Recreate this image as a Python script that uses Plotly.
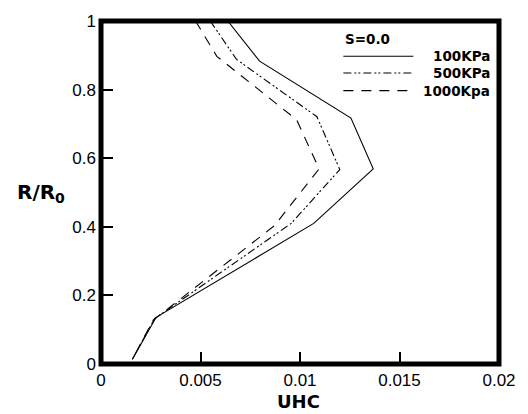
import plotly.graph_objects as go

# Radial UHC profiles at swirl S=0.0 for three chamber pressures
r_100 = [1.0, 0.883, 0.717, 0.569, 0.410, 0.136, 0.013]
uhc_100 = [0.00637, 0.00797, 0.01256, 0.01368, 0.01069, 0.00277, 0.00157]

r_500 = [1.0, 0.888, 0.721, 0.567, 0.410, 0.132, 0.013]
uhc_500 = [0.00549, 0.00681, 0.01085, 0.01200, 0.00956, 0.00269, 0.00157]

r_1000 = [1.0, 0.897, 0.712, 0.569, 0.403, 0.127, 0.013]
uhc_1000 = [0.00475, 0.00582, 0.00983, 0.01096, 0.00871, 0.00261, 0.00157]

x_ticks = [0, 0.005, 0.01, 0.015, 0.02]
x_ticktext = ["0", "0.005", "0.01", "0.015", "0.02"]
y_ticks = [0, 0.2, 0.4, 0.6, 0.8, 1]
y_ticktext = ["0", "0.2", "0.4", "0.6", "0.8", "1"]

series = [
    ("100KPa", uhc_100, r_100, "solid"),
    ("500KPa", uhc_500, r_500, "8px,3px,2px,2px,2px,3px"),
    ("1000Kpa", uhc_1000, r_1000, "10px,8px"),
]

TICK_FONT = "Liberation Sans, Arial, sans-serif"
BOLD_FONT = "DejaVu Sans, sans-serif"

L, R, T, B = 101, 23, 14, 50
W, H = 528, 414

fig = go.Figure()
for name, xs, ys, dash in series:
    fig.add_trace(go.Scatter(
        x=xs, y=ys, mode="lines", name=name,
        line=dict(color="black", width=1.1, dash=dash),
        showlegend=False,
    ))

axis_style = dict(
    showline=False,
    ticks="inside", ticklen=12, tickwidth=2, tickcolor="black",
    showgrid=False, zeroline=False,
    tickfont=dict(size=17, family=TICK_FONT),
)

fig.update_layout(
    width=W, height=H,
    margin=dict(l=L, r=R, t=T, b=B),
    paper_bgcolor="white", plot_bgcolor="white",
    font=dict(family=TICK_FONT, color="black", size=14),
    xaxis=dict(range=[0, 0.02], tickvals=x_ticks, ticktext=x_ticktext,
               ticklabelstandoff=4, **axis_style),
    yaxis=dict(range=[0, 1], tickvals=y_ticks, ticktext=y_ticktext,
               ticklabelstandoff=4, **axis_style),
)

# Heavy frame around the plotting area
fig.add_shape(
    type="rect", xref="paper", yref="paper", x0=0, x1=1, y0=0, y1=1,
    line=dict(color="black", width=5), fillcolor="rgba(0,0,0,0)", layer="above",
)

def px_x(px):
    return (px - L) / (W - L - R)

def px_y(py):
    return (H - B - py) / (H - T - B)

# Axis titles
fig.add_annotation(
    x=px_x(301), y=px_y(402), xref="paper", yref="paper",
    xanchor="center", yanchor="middle",
    text="<b>UHC</b>", showarrow=False,
    font=dict(size=18, family=BOLD_FONT),
)
fig.add_annotation(
    x=px_x(40), y=px_y(189), xref="paper", yref="paper",
    xanchor="center", yanchor="middle",
    text="<b>R/R<sub>0</sub></b>", showarrow=False,
    font=dict(size=20, family=BOLD_FONT),
)

# Legend block
fig.add_annotation(
    x=px_x(347), y=px_y(32), xref="paper", yref="paper",
    xanchor="left", yanchor="middle", text="<b>S=0.0</b>",
    showarrow=False, font=dict(size=13.5, family=BOLD_FONT),
)
legend_rows = [(50, series[0]), (67, series[1]), (85, series[2])]
for py, (name, _, _, dash) in legend_rows:
    fig.add_shape(
        type="line", xref="paper", yref="paper",
        x0=px_x(347), x1=px_x(418), y0=px_y(py), y1=px_y(py),
        line=dict(color="black", width=1.1, dash=dash),
    )
    fig.add_annotation(
        x=px_x(498), y=px_y(py), xref="paper", yref="paper",
        xanchor="right", yanchor="middle", text=f"<b>{name}</b>",
        showarrow=False, font=dict(size=13.5, family=BOLD_FONT),
    )

fig.write_html("out.html")
